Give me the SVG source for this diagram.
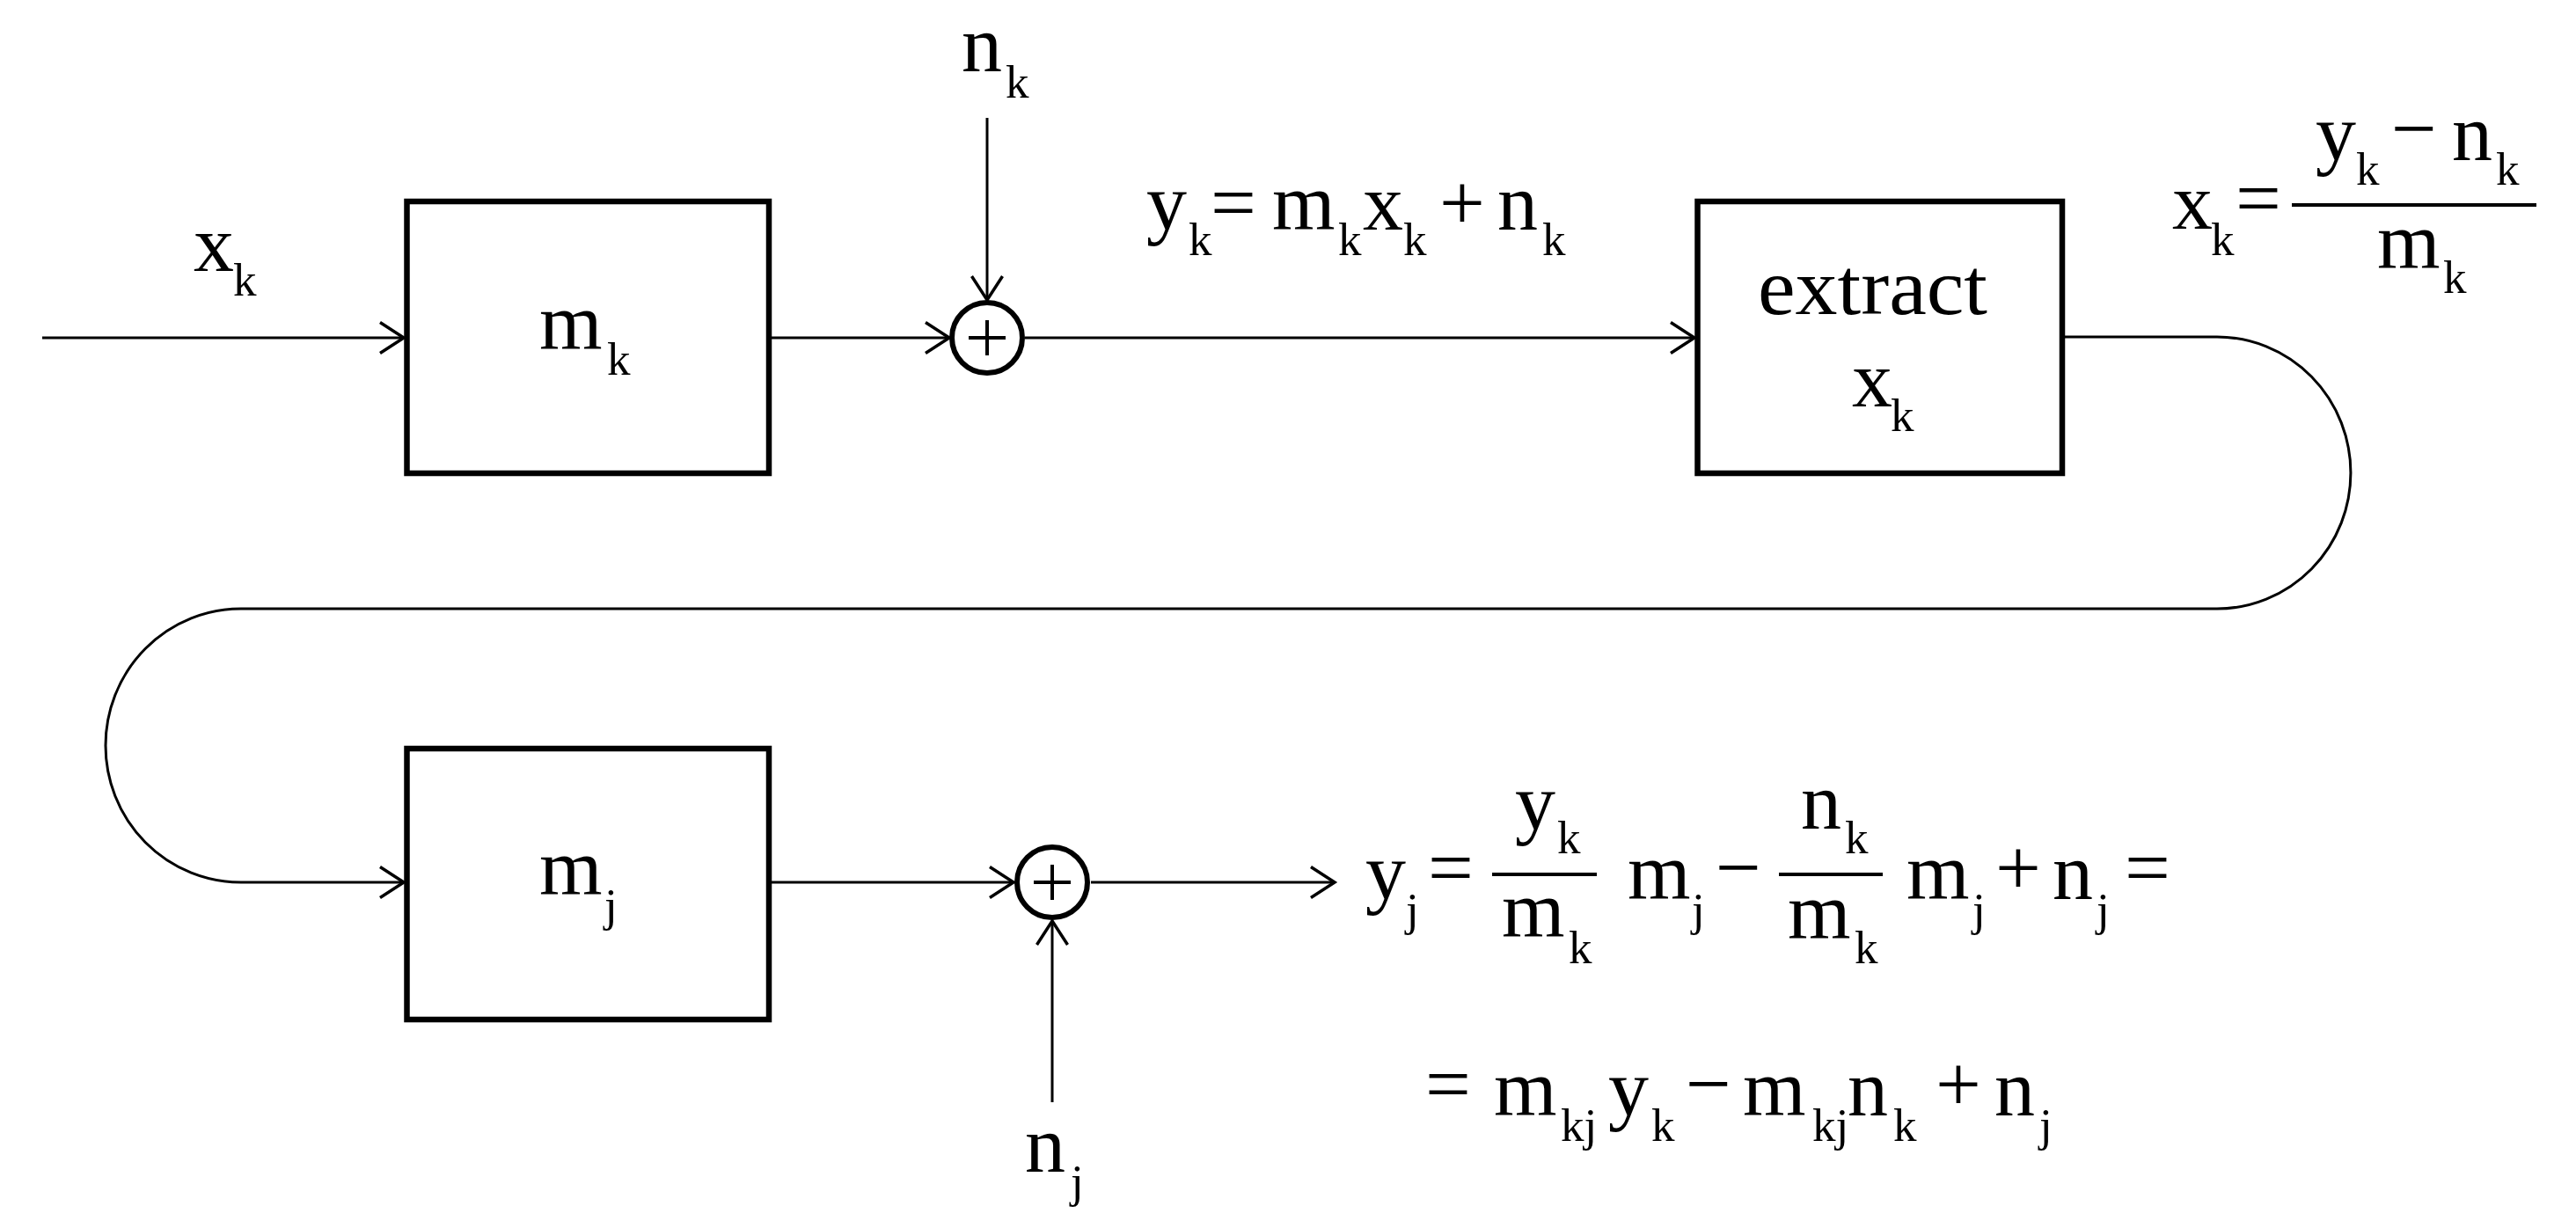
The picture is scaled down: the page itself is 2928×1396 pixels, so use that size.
<svg xmlns="http://www.w3.org/2000/svg" width="2928" height="1396" viewBox="0 0 2928 1396">
<style>
.t{font-family:"Liberation Serif","Times New Roman",serif;font-size:92px;fill:#000}
.s{font-size:53px}
.box{fill:#fff;stroke:#000;stroke-width:6.5}
.sum{fill:#fff;stroke:#000;stroke-width:6}
.plus{stroke:#000;stroke-width:4;fill:none}
.wire{fill:none;stroke:#000;stroke-width:3}
.bar{stroke:#000;stroke-width:4}
</style>
<defs>
<marker id="arr" viewBox="-30 -20 32 40" refX="0" refY="0" markerWidth="32" markerHeight="40" markerUnits="userSpaceOnUse" orient="auto" overflow="visible">
<path d="M-27,-17.5 L0,0 L-27,17.5" fill="none" stroke="#000" stroke-width="3.5"/>
</marker>
</defs>
<rect width="2928" height="1396" fill="#fff"/>

<g id="connectors">
<path class="wire" d="M48,384 H459" marker-end="url(#arr)"/>
<path class="wire" d="M877,384 H1079" marker-end="url(#arr)"/>
<path class="wire" d="M1122,134 V341" marker-end="url(#arr)"/>
<path class="wire" d="M1165,384 H1926" marker-end="url(#arr)"/>
<path class="wire" d="M2347,383 H2520 A152 154.5 0 0 1 2520 692 H274 A154 155.5 0 0 0 274 1003 H459" marker-end="url(#arr)"/>
<path class="wire" d="M877,1003 H1152" marker-end="url(#arr)"/>
<path class="wire" d="M1196,1253 V1047" marker-end="url(#arr)"/>
<path class="wire" d="M1240,1003 H1517" marker-end="url(#arr)"/>
</g>

<g id="node-mk">
<rect class="box" x="462.5" y="229" width="411.5" height="309"/>
<text class="t" x="613" y="397">m<tspan class="s" x="690" y="426">k</tspan></text>
</g>

<g id="node-sum1">
<circle class="sum" cx="1122" cy="384" r="40"/>
<path class="plus" d="M1101,384 H1143 M1122,364 V404"/>
</g>

<g id="node-extract">
<rect class="box" x="1929.5" y="229" width="414.5" height="309"/>
<text class="t" x="1998" y="357" textLength="261" lengthAdjust="spacingAndGlyphs">extract</text>
<text class="t" x="2105" y="462">x<tspan class="s" x="2149" y="490">k</tspan></text>
</g>

<g id="node-mj">
<rect class="box" x="462.5" y="851" width="411.5" height="308"/>
<text class="t" x="613" y="1017">m<tspan class="s" x="687" y="1047">j</tspan></text>
</g>

<g id="node-sum2">
<circle class="sum" cx="1196" cy="1003" r="40"/>
<path class="plus" d="M1175,1003 H1217 M1196,983 V1023"/>
</g>

<g id="label-xk">
<text class="t" x="220" y="308">x<tspan class="s" x="265" y="336">k</tspan></text>
</g>

<g id="label-nk">
<text class="t" x="1093" y="81">n<tspan class="s" x="1143" y="111">k</tspan></text>
</g>

<g id="label-yk">
<text class="t" y="261"><tspan x="1303">y</tspan><tspan class="s" x="1351" y="290">k</tspan><tspan x="1376" y="261">=</tspan><tspan x="1446">m</tspan><tspan class="s" x="1521" y="290">k</tspan><tspan x="1549" y="261">x</tspan><tspan class="s" x="1595" y="290">k</tspan><tspan x="1636" y="261">+</tspan><tspan x="1702">n</tspan><tspan class="s" x="1753" y="290">k</tspan></text>
</g>

<g id="label-xk-eq">
<text class="t" y="260"><tspan x="2469">x</tspan><tspan class="s" x="2513" y="290">k</tspan><tspan x="2541" y="256">=</tspan></text>
<text class="t" y="182"><tspan x="2632">y</tspan><tspan class="s" x="2678" y="210">k</tspan><tspan x="2718" y="177">−</tspan><tspan x="2787" y="182">n</tspan><tspan class="s" x="2837" y="210">k</tspan></text>
<line class="bar" x1="2605" y1="233" x2="2883" y2="233"/>
<text class="t" y="305"><tspan x="2702">m</tspan><tspan class="s" x="2777" y="333">k</tspan></text>
</g>

<g id="label-nj">
<text class="t" x="1165" y="1332">n<tspan class="s" x="1217" y="1361">j</tspan></text>
</g>

<g id="label-yj-eq">
<text class="t" y="1022"><tspan x="1552">y</tspan><tspan class="s" x="1598" y="1052">j</tspan><tspan x="1623" y="1017">=</tspan></text>
<line class="bar" x1="1696" y1="994" x2="1815" y2="994"/>
<text class="t" y="943"><tspan x="1722">y</tspan><tspan class="s" x="1770" y="970">k</tspan></text>
<text class="t" y="1065"><tspan x="1707">m</tspan><tspan class="s" x="1783" y="1095">k</tspan></text>
<text class="t" y="1022"><tspan x="1850">m</tspan><tspan class="s" x="1923" y="1052">j</tspan><tspan x="1950" y="1017">−</tspan></text>
<line class="bar" x1="2022" y1="994" x2="2140" y2="994"/>
<text class="t" y="942"><tspan x="2047">n</tspan><tspan class="s" x="2097" y="970">k</tspan></text>
<text class="t" y="1067"><tspan x="2032">m</tspan><tspan class="s" x="2108" y="1095">k</tspan></text>
<text class="t" y="1022"><tspan x="2167">m</tspan><tspan class="s" x="2242" y="1052">j</tspan><tspan x="2268" y="1017">+</tspan><tspan x="2333" y="1022">n</tspan><tspan class="s" x="2383" y="1052">j</tspan><tspan x="2415" y="1017">=</tspan></text>
<text class="t" y="1268"><tspan x="1620" y="1263">=</tspan><tspan x="1698" y="1268">m</tspan><tspan class="s" x="1774" y="1297">kj</tspan><tspan x="1828" y="1268">y</tspan><tspan class="s" x="1877" y="1297">k</tspan><tspan x="1916" y="1263">−</tspan><tspan x="1981" y="1268">m</tspan><tspan class="s" x="2060" y="1297">kj</tspan><tspan x="2100" y="1268">n</tspan><tspan class="s" x="2152" y="1297">k</tspan><tspan x="2200" y="1263">+</tspan><tspan x="2267" y="1268">n</tspan><tspan class="s" x="2318" y="1297">j</tspan></text>
</g>
</svg>
